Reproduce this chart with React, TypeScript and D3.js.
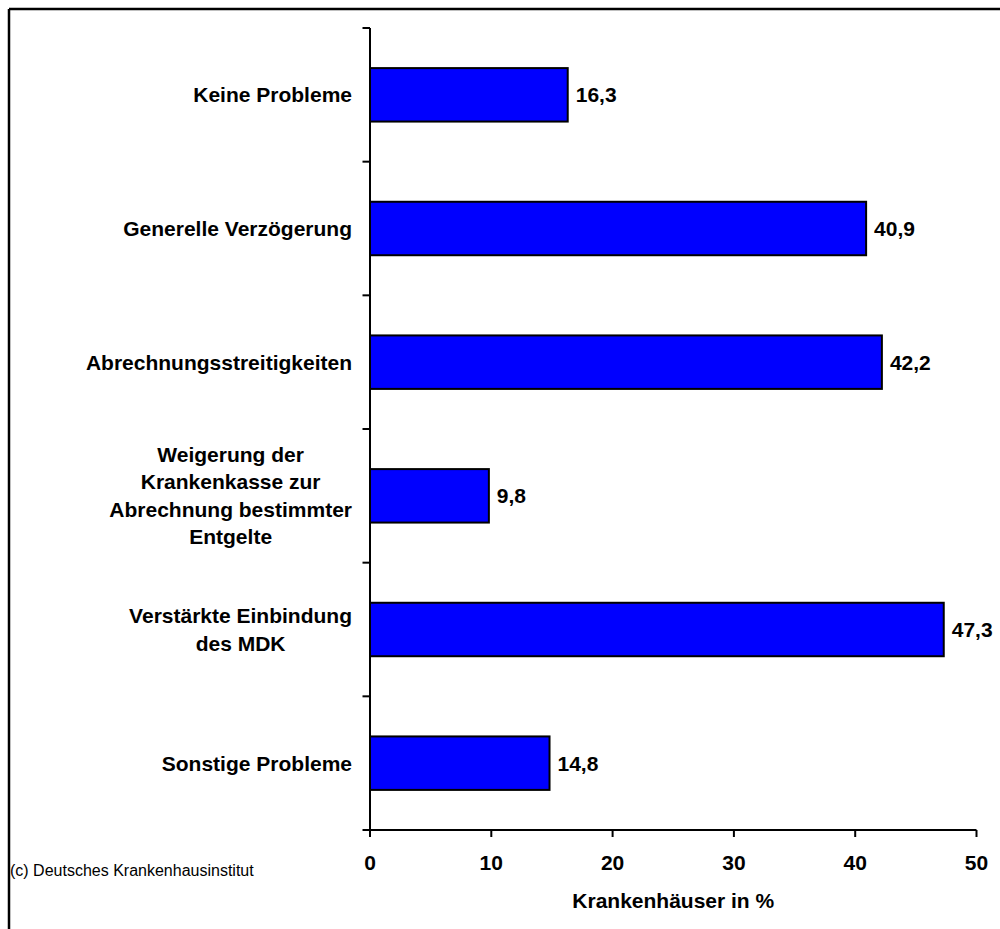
import React, { useMemo } from "react";
import * as d3 from "d3";

// Categories (top to bottom), each split into display lines
const categories: string[][] = [
  ["Keine Probleme"],
  ["Generelle Verzögerung"],
  ["Abrechnungsstreitigkeiten"],
  ["Weigerung der", "Krankenkasse zur", "Abrechnung bestimmter", "Entgelte"],
  ["Verstärkte Einbindung", "des MDK"],
  ["Sonstige Probleme"],
];

const values: number[] = [16.3, 40.9, 42.2, 9.8, 47.3, 14.8];

const xTicks: number[] = [0, 10, 20, 30, 40, 50];

const axisTitle = "Krankenhäuser in %";
const footnote = "(c) Deutsches Krankenhausinstitut";

const W = 1000;
const H = 929;
const FONT = "'Liberation Sans', Arial, Helvetica, sans-serif";

const plot = { left: 370, right: 976.5, top: 28, bottom: 830 };

function measure(text: string, font: string): number {
  const c = document.createElement("canvas");
  const ctx = c.getContext("2d");
  if (!ctx) return text.length * 11;
  ctx.font = font;
  return ctx.measureText(text).width;
}

const fmt = (v: number) => v.toFixed(1).replace(".", ",");

export default function App() {
  const x = d3.scaleLinear().domain([0, 50]).range([plot.left, plot.right]);
  const y = d3
    .scaleBand<number>()
    .domain(d3.range(categories.length))
    .range([plot.top, plot.bottom])
    .paddingInner(0.6)
    .paddingOuter(0.3);

  const step = (plot.bottom - plot.top) / categories.length;
  const boundaries = d3.range(categories.length + 1).map((i) => plot.top + i * step);

  const labelRight = 352;
  const lineH = 27.4;

  const blockCenters = useMemo(
    () =>
      categories.map((lines) => {
        const maxW = d3.max(lines, (l) => measure(l, `bold 21px ${FONT}`)) || 0;
        return labelRight - maxW / 2;
      }),
    []
  );

  return (
    <svg
      width={W}
      height={H}
      style={{ position: "absolute", left: 0, top: 0, background: "#fff" }}
      fontFamily={FONT}
    >
      {/* outer frame */}
      <line x1={9} y1={9} x2={W} y2={9} stroke="#000" strokeWidth={2.5} />
      <line x1={9} y1={9} x2={9} y2={H} stroke="#000" strokeWidth={2.5} />

      {/* bars */}
      {values.map((v, i) => (
        <rect
          key={i}
          x={x(0)}
          y={y(i)}
          width={x(v) - x(0)}
          height={y.bandwidth()}
          fill="#0000FF"
          stroke="#000"
          strokeWidth={2}
        />
      ))}

      {/* value labels */}
      {values.map((v, i) => (
        <text
          key={i}
          x={x(v) + 8}
          y={(y(i) as number) + y.bandwidth() / 2}
          dy="0.35em"
          fontSize={21}
          fontWeight="bold"
          fill="#000"
        >
          {fmt(v)}
        </text>
      ))}

      {/* y axis */}
      <line x1={plot.left} y1={plot.top} x2={plot.left} y2={plot.bottom} stroke="#000" strokeWidth={2} />
      {boundaries.map((b, i) => (
        <line key={i} x1={plot.left - 7.5} y1={b} x2={plot.left} y2={b} stroke="#000" strokeWidth={2} />
      ))}

      {/* category labels */}
      {categories.map((lines, i) => {
        const cy = (y(i) as number) + y.bandwidth() / 2;
        const single = lines.length === 1;
        const cx = blockCenters[i];
        return (
          <text
            key={i}
            fontSize={21}
            fontWeight="bold"
            fill="#000"
            textAnchor={single ? "end" : "middle"}
          >
            {lines.map((l, j) => (
              <tspan
                key={j}
                x={single ? labelRight : cx}
                y={cy + (j - (lines.length - 1) / 2) * lineH}
                dy="0.35em"
              >
                {l}
              </tspan>
            ))}
          </text>
        );
      })}

      {/* x axis */}
      <line x1={plot.left} y1={plot.bottom} x2={x(50)} y2={plot.bottom} stroke="#000" strokeWidth={2} />
      {xTicks.map((t) => (
        <g key={t}>
          <line x1={x(t)} y1={plot.bottom} x2={x(t)} y2={plot.bottom + 7} stroke="#000" strokeWidth={2} />
          <text
            x={x(t)}
            y={870}
            textAnchor="middle"
            fontSize={21}
            fontWeight="bold"
            fill="#000"
          >
            {t}
          </text>
        </g>
      ))}

      {/* axis title */}
      <text
        x={(plot.left + plot.right) / 2}
        y={908}
        textAnchor="middle"
        fontSize={21}
        fontWeight="bold"
        fill="#000"
      >
        {axisTitle}
      </text>

      {/* source note */}
      <text x={10} y={876} fontSize={16} fill="#000">
        {footnote}
      </text>
    </svg>
  );
}
